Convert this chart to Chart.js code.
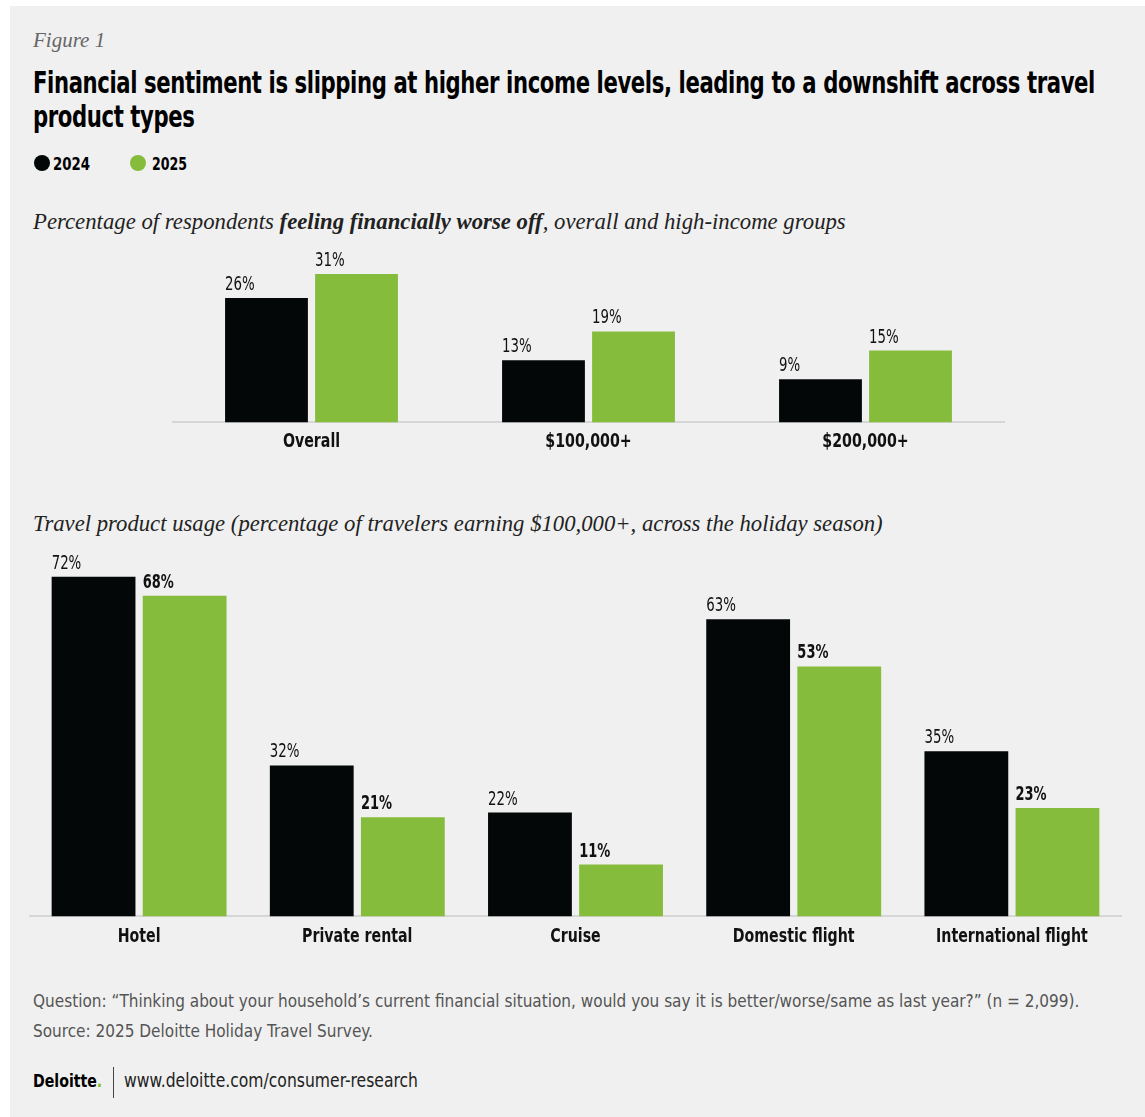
<!DOCTYPE html>
<html>
<head>
<meta charset="utf-8">
<script src="https://cdn.jsdelivr.net/npm/chart.js@4.4.1/dist/chart.umd.min.js"></script>
<style>
  html, body { margin: 0; padding: 0; background: #fff; }
  #page {
    position: absolute; left: 10px; top: 6px; width: 1135px; height: 1111px;
    background: #f0f0f0; overflow: hidden;
  }
  .narrow { font-family: 'DejaVu Sans Condensed', 'Liberation Sans Narrow', 'Roboto', sans-serif; }
  .serif { font-family: 'Liberation Serif', 'DejaVu Serif', serif; }
  .abs { position: absolute; white-space: nowrap; transform-origin: 0 50%; }
  #fig { left: 23px; top: 22px; font-size: 21px; font-style: italic; color: #666; }
  .title { left: 23px; font-size: 30px; font-weight: bold; color: #000; line-height: 34px; letter-spacing: -0.5px; }
  .leg { top: 147px; font-size: 18px; font-weight: bold; color: #000; }
  .dot { position: absolute; top: 149px; width: 16px; height: 16px; border-radius: 50%; }
  .sub { left: 23px; font-size: 23px; font-style: italic; color: #222; }
  .note { left: 23px; font-size: 18px; color: #555; }
  #logo { left: 23px; top: 1064px; font-size: 18px; font-weight: bold; color: #000; }
  #logo i { color: #86bc25; font-style: normal; }
  #vline { left: 103px; top: 1061px; width: 1px; height: 31px; background: #444; }
  #url { left: 114px; top: 1063px; font-size: 19px; color: #222; }
  canvas { position: absolute; }
</style>
</head>
<body>
<div id="page">
  <div id="fig" class="abs serif">Figure 1</div>
  <div id="t1" class="abs narrow title" style="top:60px">Financial sentiment is slipping at higher income levels, leading to a downshift across travel</div>
  <div id="t2" class="abs narrow title" style="top:94px">product types</div>
  <div class="dot" style="left:24px;background:#030707"></div>
  <div id="l1" class="abs narrow leg" style="left:43px">2024</div>
  <div class="dot" style="left:120px;background:#86bc3b"></div>
  <div id="l2" class="abs narrow leg" style="left:142px">2025</div>
  <div id="sub1" class="abs serif sub" style="top:203px">Percentage of respondents <b>feeling financially worse off</b>, overall and high-income groups</div>
  <div id="sub2" class="abs serif sub" style="top:505px">Travel product usage (percentage of travelers earning $100,000+, across the holiday season)</div>
  <div id="n1" class="abs narrow note" style="top:984px">Question: “Thinking about your household’s current financial situation, would you say it is better/worse/same as last year?” (n = 2,099).</div>
  <div id="n2" class="abs narrow note" style="top:1014px">Source: 2025 Deloitte Holiday Travel Survey.</div>
  <div id="logo" class="abs narrow">Deloitte<i>.</i></div>
  <div id="vline" class="abs"></div>
  <div id="url" class="abs narrow">www.deloitte.com/consumer-research</div>
  <div style="position:absolute;left:143px;top:236px;width:871px;height:230px"><canvas id="chart1"></canvas></div>
  <div style="position:absolute;left:0px;top:540px;width:1131px;height:420px"><canvas id="chart2"></canvas></div>
</div>
<script>
const years = ['2024', '2025'];
const sentimentGroups = ['Overall', '$100,000+', '$200,000+'];
const sentiment2024 = [26, 13, 9];
const sentiment2025 = [31, 19, 15];

const productTypes = ['Hotel', 'Private rental', 'Cruise', 'Domestic flight', 'International flight'];
const usage2024 = [72, 32, 22, 63, 35];
const usage2025 = [68, 21, 11, 53, 23];

const black = '#030707';
const green = '#86bc3b';
const fontFamily = "'DejaVu Sans Condensed', 'Liberation Sans Narrow', 'Roboto', sans-serif";

// squeeze the html text to the widths of the reference layout
function fit(id, width) {
  const el = document.getElementById(id);
  const k = width / el.scrollWidth;
  el.style.transform = 'scaleX(' + k + ')';
  return k;
}
const tk = fit('t1', 1062);
document.getElementById('t2').style.transform = 'scaleX(' + tk + ')';
fit('l1', 37);
fit('l2', 35);
fit('sub1', 813);
fit('sub2', 850);
const nk = fit('n1', 1046);
document.getElementById('n2').style.transform = 'scaleX(' + nk + ')';
fit('logo', 69);
fit('url', 294);

function squeezedText(ctx, text, x, y, k, align) {
  ctx.save();
  ctx.translate(x, y);
  ctx.scale(k, 1);
  ctx.textAlign = align;
  ctx.fillText(text, 0, 0);
  ctx.restore();
}

// % labels over each bar and narrow category labels under the axis
const barLabels = {
  id: 'barLabels',
  afterDatasetsDraw(chart, args, opts) {
    const ctx = chart.ctx;
    ctx.save();
    ctx.fillStyle = '#111';
    ctx.textBaseline = 'alphabetic';
    chart.data.datasets.forEach((ds, i) => {
      const meta = chart.getDatasetMeta(i);
      const bold = opts.boldSecond && i === 1;
      ctx.font = (bold ? 'bold ' : '') + '19px ' + fontFamily;
      meta.data.forEach((bar, j) => {
        squeezedText(ctx, ds.data[j] + '%', bar.x - bar.width / 2, bar.y - 8, bold ? 0.76 : 0.78, 'left');
      });
    });
    const xs = chart.scales.x;
    ctx.font = 'bold 19px ' + fontFamily;
    ctx.textBaseline = 'middle';
    chart.data.labels.forEach((lab, i) => {
      squeezedText(ctx, lab, xs.getPixelForTick(i), xs.top + opts.labelOffset, 0.83, 'center');
    });
    ctx.restore();
  }
};

function makeChart(id, labels, a, b, yMax, catPct, boldSecond, labelOffset) {
  return new Chart(document.getElementById(id), {
    type: 'bar',
    data: {
      labels: labels,
      datasets: [
        { label: years[0], data: a, backgroundColor: black, categoryPercentage: catPct, barPercentage: 0.92 },
        { label: years[1], data: b, backgroundColor: green, categoryPercentage: catPct, barPercentage: 0.92 },
      ],
    },
    options: {
      responsive: true,
      maintainAspectRatio: false,
      animation: false,
      layout: { padding: { top: 10, left: 20, right: 20 } },
      scales: {
        y: { display: false, min: 0, max: yMax },
        x: {
          grid: { display: false },
          border: { display: true, color: '#d6d6d6', width: 2 },
          ticks: { color: 'rgba(0,0,0,0)', padding: 10, font: { family: fontFamily, size: 18, weight: 'bold' } },
        },
      },
      plugins: {
        legend: { display: false },
        tooltip: { enabled: false },
        barLabels: { boldSecond: boldSecond, labelOffset: labelOffset },
      },
    },
    plugins: [barLabels],
  });
}

makeChart('chart1', sentimentGroups, sentiment2024, sentiment2025, 35.6, 0.65, false, 20);
makeChart('chart2', productTypes, usage2024, usage2025, 76.4, 0.835, true, 21);
</script>
</body>
</html>
